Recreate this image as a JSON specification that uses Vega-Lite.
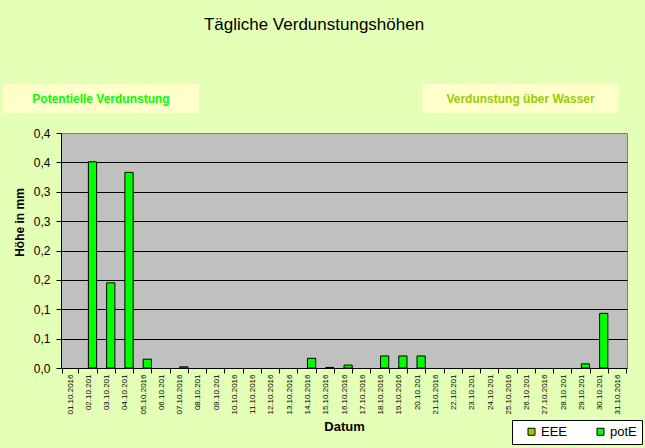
{
  "$schema": "https://vega.github.io/schema/vega-lite/v6.json",
  "width": 566,
  "height": 235,
  "autosize": {"type": "none"},
  "padding": {"left": 61, "top": 133, "right": 18, "bottom": 80},
  "background": "#E4FFB6",
  "title": {
    "text": "Tägliche Verdunstungshöhen",
    "font": "Liberation Sans",
    "fontSize": 17,
    "fontWeight": "normal",
    "color": "black",
    "anchor": "middle",
    "frame": "group",
    "dx": -30,
    "offset": 50
  },
  "config": {
    "view": {"fill": "#C0C0C0", "stroke": "#808080", "strokeWidth": 1},
    "axis": {
      "labelFont": "Liberation Sans",
      "titleFont": "Liberation Sans",
      "labelColor": "black",
      "titleColor": "black",
      "domainColor": "black",
      "tickColor": "black",
      "tickSize": 5
    }
  },
  "resolve": {"scale": {"x": "independent", "y": "independent", "color": "independent"}},
  "layer": [
    {
      "data": {
        "values": [
          {"Datum": "01.10.2016", "Reihe": "potE", "Wert": 0},
          {"Datum": "02.10.201", "Reihe": "potE", "Wert": 0.351},
          {"Datum": "03.10.201", "Reihe": "potE", "Wert": 0.145},
          {"Datum": "04.10.201", "Reihe": "potE", "Wert": 0.333},
          {"Datum": "05.10.2016", "Reihe": "potE", "Wert": 0.015},
          {"Datum": "06.10.201", "Reihe": "potE", "Wert": 0},
          {"Datum": "07.10.2016", "Reihe": "potE", "Wert": 0.002},
          {"Datum": "08.10.201", "Reihe": "potE", "Wert": 0},
          {"Datum": "09.10.201", "Reihe": "potE", "Wert": 0},
          {"Datum": "10.10.2016", "Reihe": "potE", "Wert": 0},
          {"Datum": "11.10.2016", "Reihe": "potE", "Wert": 0},
          {"Datum": "12.10.2016", "Reihe": "potE", "Wert": 0},
          {"Datum": "13.10.2016", "Reihe": "potE", "Wert": 0},
          {"Datum": "14.10.2016", "Reihe": "potE", "Wert": 0.0165},
          {"Datum": "15.10.2016", "Reihe": "potE", "Wert": 0.001},
          {"Datum": "16.10.2016", "Reihe": "potE", "Wert": 0.005},
          {"Datum": "17.10.2016", "Reihe": "potE", "Wert": 0},
          {"Datum": "18.10.2016", "Reihe": "potE", "Wert": 0.0205},
          {"Datum": "19.10.2016", "Reihe": "potE", "Wert": 0.0205},
          {"Datum": "20.10.201", "Reihe": "potE", "Wert": 0.0205},
          {"Datum": "21.10.2016", "Reihe": "potE", "Wert": 0},
          {"Datum": "22.10.201", "Reihe": "potE", "Wert": 0},
          {"Datum": "23.10.201", "Reihe": "potE", "Wert": 0},
          {"Datum": "24.10.201", "Reihe": "potE", "Wert": 0},
          {"Datum": "25.10.2016", "Reihe": "potE", "Wert": 0},
          {"Datum": "26.10.201", "Reihe": "potE", "Wert": 0},
          {"Datum": "27.10.2016", "Reihe": "potE", "Wert": 0},
          {"Datum": "28.10.201", "Reihe": "potE", "Wert": 0},
          {"Datum": "29.10.201", "Reihe": "potE", "Wert": 0.007},
          {"Datum": "30.10.201", "Reihe": "potE", "Wert": 0.093},
          {"Datum": "31.10.2016", "Reihe": "potE", "Wert": 0}
        ]
      },
      "mark": {"type": "bar", "stroke": "black", "strokeWidth": 1, "opacity": 1},
      "encoding": {
        "x": {
          "field": "Datum",
          "type": "nominal",
          "sort": null,
          "scale": {"paddingInner": 0.1, "paddingOuter": 0.05},
          "axis": {
            "title": "Datum",
            "titleFontSize": 13,
            "titleFontWeight": "bold",
            "titlePadding": 6,
            "labelAngle": -90,
            "labelFontSize": 8,
            "labelPadding": 1,
            "labelOverlap": false,
            "tickBand": "extent",
            "grid": false
          }
        },
        "xOffset": {
          "field": "Reihe",
          "type": "nominal",
          "scale": {"domain": ["EEE", "potE"], "paddingInner": 0, "paddingOuter": 0}
        },
        "y": {
          "field": "Wert",
          "type": "quantitative",
          "scale": {"domain": [0, 0.4], "nice": false},
          "axis": {
            "title": "Höhe in mm",
            "titleFontSize": 12,
            "titleFontWeight": "bold",
            "titlePadding": 7,
            "titleY": 89,
            "values": [0, 0.05, 0.1, 0.15, 0.2, 0.25, 0.3, 0.35, 0.4],
            "labelExpr": "replace(format(round(datum.value*10)/10, '.1f'), '.', ',')",
            "labelFontSize": 12,
            "labelPadding": 6,
            "grid": true,
            "gridColor": {"condition": {"test": "datum.value == 0 || datum.value > 0.39", "value": "transparent"}, "value": "black"},
            "gridOpacity": 1,
            "gridWidth": 1
          }
        },
        "color": {
          "field": "Reihe",
          "type": "nominal",
          "scale": {"domain": ["EEE", "potE"], "range": ["#99CC00", "#00FF00"]},
          "legend": {
            "title": null,
            "orient": "none",
            "legendX": 451,
            "legendY": 287,
            "direction": "horizontal",
            "fillColor": "white",
            "strokeColor": "black",
            "padding": 5,
            "symbolType": "square",
            "symbolSize": 49,
            "symbolStrokeColor": "black",
            "symbolStrokeWidth": 1,
            "symbolOpacity": 1,
            "symbolOffset": 8,
            "labelFont": "Liberation Sans",
            "labelFontSize": 13,
            "labelColor": "black",
            "labelOffset": 3,
            "columnPadding": 18
          }
        },
        "strokeOpacity": {"condition": {"test": "datum.Wert == 0", "value": 0}, "value": 1}
      }
    },
    {
      "data": {
        "values": [
          {"Seite": "links", "Text": "Potentielle Verdunstung"},
          {"Seite": "rechts", "Text": "Verdunstung über Wasser"}
        ]
      },
      "encoding": {
        "x": {
          "field": "Seite",
          "type": "nominal",
          "scale": {"range": [-58, 557.5], "paddingInner": 0.533, "paddingOuter": 0},
          "axis": null
        },
        "y": {
          "datum": "Kopf",
          "type": "nominal",
          "scale": {"range": [-49, -20], "paddingInner": 0, "paddingOuter": 0},
          "axis": null
        }
      },
      "layer": [
        {"mark": {"type": "rect", "fill": "#FFFFCC"}},
        {
          "mark": {"type": "text", "font": "Liberation Sans", "fontWeight": "bold", "fontSize": 12},
          "encoding": {
            "text": {"field": "Text"},
            "color": {
              "field": "Seite",
              "type": "nominal",
              "scale": {"domain": ["links", "rechts"], "range": ["#00FF00", "#99CC00"]},
              "legend": null
            }
          }
        }
      ]
    }
  ]
}
